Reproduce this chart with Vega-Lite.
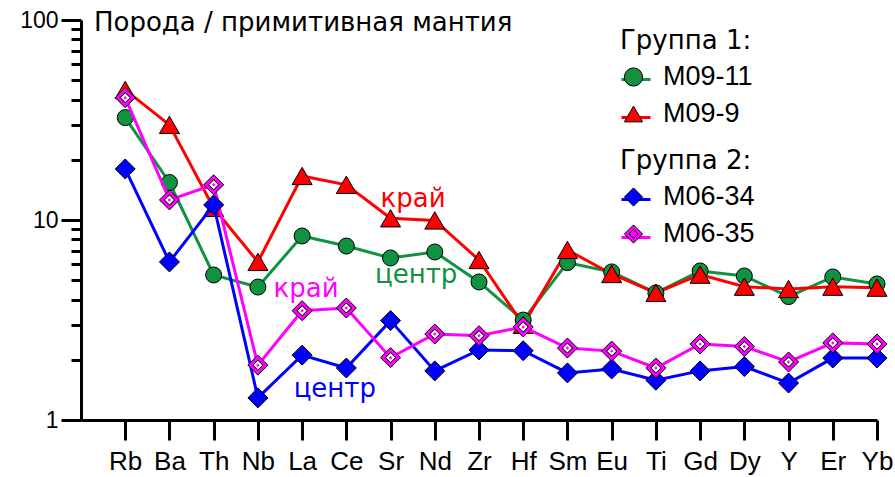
{
  "$schema": "https://vega.github.io/schema/vega-lite/v6.json",
  "width": 796,
  "height": 400,
  "autosize": "none",
  "padding": {"left": 81, "top": 20, "right": 18, "bottom": 57},
  "background": "white",
  "config": {
    "font": "Liberation Sans",
    "view": {"stroke": null},
    "legend": {
      "orient": "none",
      "padding": 0,
      "titleFont": "DejaVu Sans",
      "titleFontSize": 26,
      "titleFontWeight": "normal",
      "titleColor": "black",
      "titlePadding": 9.5,
      "labelFontSize": 27,
      "labelColor": "black",
      "labelOffset": 16,
      "labelLimit": 0,
      "rowPadding": 9,
      "symbolSize": 841
    }
  },
  "title": {
    "text": "Порода / примитивная мантия",
    "orient": "top",
    "anchor": "start",
    "frame": "group",
    "offset": 0,
    "dx": 13,
    "dy": 48,
    "baseline": "alphabetic",
    "font": "DejaVu Sans",
    "fontSize": 26,
    "fontWeight": "normal",
    "color": "black"
  },
  "datasets": {
    "trace": [
      {"sample": "M09-11", "group": 1, "element": "Rb", "value": 32.5},
      {"sample": "M09-11", "group": 1, "element": "Ba", "value": 15.4},
      {"sample": "M09-11", "group": 1, "element": "Th", "value": 5.31},
      {"sample": "M09-11", "group": 1, "element": "Nb", "value": 4.62},
      {"sample": "M09-11", "group": 1, "element": "La", "value": 8.32},
      {"sample": "M09-11", "group": 1, "element": "Ce", "value": 7.41},
      {"sample": "M09-11", "group": 1, "element": "Sr", "value": 6.46},
      {"sample": "M09-11", "group": 1, "element": "Nd", "value": 6.92},
      {"sample": "M09-11", "group": 1, "element": "Zr", "value": 4.9},
      {"sample": "M09-11", "group": 1, "element": "Hf", "value": 3.16},
      {"sample": "M09-11", "group": 1, "element": "Sm", "value": 6.12},
      {"sample": "M09-11", "group": 1, "element": "Eu", "value": 5.5},
      {"sample": "M09-11", "group": 1, "element": "Ti", "value": 4.32},
      {"sample": "M09-11", "group": 1, "element": "Gd", "value": 5.56},
      {"sample": "M09-11", "group": 1, "element": "Dy", "value": 5.25},
      {"sample": "M09-11", "group": 1, "element": "Y", "value": 4.14},
      {"sample": "M09-11", "group": 1, "element": "Er", "value": 5.19},
      {"sample": "M09-11", "group": 1, "element": "Yb", "value": 4.79},
      {"sample": "M09-9", "group": 1, "element": "Rb", "value": 44.7},
      {"sample": "M09-9", "group": 1, "element": "Ba", "value": 29.9},
      {"sample": "M09-9", "group": 1, "element": "Th", "value": 11.5},
      {"sample": "M09-9", "group": 1, "element": "Nb", "value": 6.17},
      {"sample": "M09-9", "group": 1, "element": "La", "value": 16.6},
      {"sample": "M09-9", "group": 1, "element": "Ce", "value": 15.0},
      {"sample": "M09-9", "group": 1, "element": "Sr", "value": 10.2},
      {"sample": "M09-9", "group": 1, "element": "Nd", "value": 9.95},
      {"sample": "M09-9", "group": 1, "element": "Zr", "value": 6.31},
      {"sample": "M09-9", "group": 1, "element": "Hf", "value": 2.99},
      {"sample": "M09-9", "group": 1, "element": "Sm", "value": 7.08},
      {"sample": "M09-9", "group": 1, "element": "Eu", "value": 5.37},
      {"sample": "M09-9", "group": 1, "element": "Ti", "value": 4.32},
      {"sample": "M09-9", "group": 1, "element": "Gd", "value": 5.33},
      {"sample": "M09-9", "group": 1, "element": "Dy", "value": 4.64},
      {"sample": "M09-9", "group": 1, "element": "Y", "value": 4.52},
      {"sample": "M09-9", "group": 1, "element": "Er", "value": 4.64},
      {"sample": "M09-9", "group": 1, "element": "Yb", "value": 4.59},
      {"sample": "M06-34", "group": 2, "element": "Rb", "value": 18.0},
      {"sample": "M06-34", "group": 2, "element": "Ba", "value": 6.17},
      {"sample": "M06-34", "group": 2, "element": "Th", "value": 11.9},
      {"sample": "M06-34", "group": 2, "element": "Nb", "value": 1.29},
      {"sample": "M06-34", "group": 2, "element": "La", "value": 2.11},
      {"sample": "M06-34", "group": 2, "element": "Ce", "value": 1.82},
      {"sample": "M06-34", "group": 2, "element": "Sr", "value": 3.14},
      {"sample": "M06-34", "group": 2, "element": "Nd", "value": 1.76},
      {"sample": "M06-34", "group": 2, "element": "Zr", "value": 2.24},
      {"sample": "M06-34", "group": 2, "element": "Hf", "value": 2.22},
      {"sample": "M06-34", "group": 2, "element": "Sm", "value": 1.72},
      {"sample": "M06-34", "group": 2, "element": "Eu", "value": 1.8},
      {"sample": "M06-34", "group": 2, "element": "Ti", "value": 1.58},
      {"sample": "M06-34", "group": 2, "element": "Gd", "value": 1.76},
      {"sample": "M06-34", "group": 2, "element": "Dy", "value": 1.85},
      {"sample": "M06-34", "group": 2, "element": "Y", "value": 1.53},
      {"sample": "M06-34", "group": 2, "element": "Er", "value": 2.04},
      {"sample": "M06-34", "group": 2, "element": "Yb", "value": 2.04},
      {"sample": "M06-35", "group": 2, "element": "Rb", "value": 40.9},
      {"sample": "M06-35", "group": 2, "element": "Ba", "value": 12.6},
      {"sample": "M06-35", "group": 2, "element": "Th", "value": 15.0},
      {"sample": "M06-35", "group": 2, "element": "Nb", "value": 1.88},
      {"sample": "M06-35", "group": 2, "element": "La", "value": 3.52},
      {"sample": "M06-35", "group": 2, "element": "Ce", "value": 3.63},
      {"sample": "M06-35", "group": 2, "element": "Sr", "value": 2.05},
      {"sample": "M06-35", "group": 2, "element": "Nd", "value": 2.69},
      {"sample": "M06-35", "group": 2, "element": "Zr", "value": 2.64},
      {"sample": "M06-35", "group": 2, "element": "Hf", "value": 2.92},
      {"sample": "M06-35", "group": 2, "element": "Sm", "value": 2.29},
      {"sample": "M06-35", "group": 2, "element": "Eu", "value": 2.21},
      {"sample": "M06-35", "group": 2, "element": "Ti", "value": 1.82},
      {"sample": "M06-35", "group": 2, "element": "Gd", "value": 2.4},
      {"sample": "M06-35", "group": 2, "element": "Dy", "value": 2.33},
      {"sample": "M06-35", "group": 2, "element": "Y", "value": 1.95},
      {"sample": "M06-35", "group": 2, "element": "Er", "value": 2.43},
      {"sample": "M06-35", "group": 2, "element": "Yb", "value": 2.4}
    ],
    "notes": [
      {"label": "край", "sample": "M09-9", "pos": 7.51, "value": 11.6},
      {"label": "центр", "sample": "M09-11", "pos": 7.58, "value": 4.84},
      {"label": "край", "sample": "M06-35", "pos": 5.09, "value": 4.12},
      {"label": "центр", "sample": "M06-34", "pos": 5.74, "value": 1.3}
    ]
  },
  "layer": [
    {
      "data": {"name": "trace"},
      "encoding": {
        "x": {
          "field": "element",
          "type": "ordinal",
          "sort": null,
          "scale": {
            "type": "point",
            "padding": 0,
            "domain": ["", "Rb", "Ba", "Th", "Nb", "La", "Ce", "Sr", "Nd", "Zr", "Hf", "Sm", "Eu", "Ti", "Gd", "Dy", "Y", "Er", "Yb"]
          },
          "axis": {
            "title": null,
            "orient": "bottom",
            "values": ["Rb", "Ba", "Th", "Nb", "La", "Ce", "Sr", "Nd", "Zr", "Hf", "Sm", "Eu", "Ti", "Gd", "Dy", "Y", "Er", "Yb"],
            "labelAngle": 0,
            "labelFontSize": 26,
            "labelColor": "black",
            "labelPadding": 8,
            "tickSize": 20,
            "tickWidth": 3,
            "tickColor": "black",
            "domainColor": "black",
            "domainWidth": 3,
            "grid": false
          }
        },
        "y": {
          "field": "value",
          "type": "quantitative",
          "scale": {"type": "log", "domain": [1, 100]},
          "axis": {
            "title": null,
            "orient": "left",
            "values": [1, 10, 100],
            "format": "d",
            "labelFontSize": 23,
            "labelColor": "black",
            "labelPadding": 3,
            "tickSize": 20,
            "tickWidth": 3,
            "tickColor": "black",
            "domainColor": "black",
            "domainWidth": 3,
            "grid": false
          }
        },
        "order": {"value": null}
      },
      "layer": [
        {
          "transform": [{"filter": "datum.group === 1"}],
          "layer": [
            {
              "mark": {"type": "line", "strokeWidth": 3},
              "encoding": {
                "stroke": {
                  "field": "sample",
                  "type": "nominal",
                  "scale": {"range": ["#119240", "#ff0000"]},
                  "legend": {
                    "title": " ",
                    "legendX": 539,
                    "legendY": 8,
                    "symbolType": "stroke",
                    "symbolStrokeWidth": 3,
                    "labelExpr": "''",
                    "zindex": 0
                  }
                }
              }
            },
            {
              "mark": {"type": "point", "filled": true, "stroke": "black", "strokeWidth": 1, "opacity": 1},
              "encoding": {
                "fill": {
                  "field": "sample",
                  "type": "nominal",
                  "scale": {"domain": ["M09-11", "M09-9"], "range": ["#119240", "#ff0000"]},
                  "legend": {
                    "title": "Группа 1:",
                    "legendX": 539,
                    "legendY": 8,
                    "symbolStrokeColor": "black",
                    "symbolStrokeWidth": 1,
                    "symbolOpacity": 1,
                    "zindex": 1,
                    "encode": {"symbols": {"update": {"size": {"value": 330}, "stroke": {"value": "black"}, "strokeWidth": {"value": 1}}}}
                  }
                },
                "shape": {
                  "field": "sample",
                  "type": "nominal",
                  "scale": {"domain": ["M09-11", "M09-9"], "range": ["circle", "triangle-up"]},
                  "legend": {
                    "title": "Группа 1:",
                    "legendX": 539,
                    "legendY": 8,
                    "symbolStrokeColor": "black",
                    "symbolStrokeWidth": 1,
                    "symbolOpacity": 1,
                    "zindex": 1,
                    "encode": {"symbols": {"update": {"size": {"value": 330}, "stroke": {"value": "black"}, "strokeWidth": {"value": 1}}}}
                  }
                },
                "size": {
                  "field": "sample",
                  "type": "ordinal",
                  "scale": {"range": [256, 400]},
                  "legend": null
                }
              }
            }
          ]
        },
        {
          "transform": [{"filter": "datum.group === 2"}],
          "layer": [
            {
              "mark": {"type": "line", "strokeWidth": 3},
              "encoding": {
                "stroke": {
                  "field": "sample",
                  "type": "nominal",
                  "scale": {"range": ["#0000ff", "#ff00ff"]},
                  "legend": {
                    "title": " ",
                    "legendX": 539,
                    "legendY": 128,
                    "symbolType": "stroke",
                    "symbolStrokeWidth": 3,
                    "labelExpr": "''",
                    "zindex": 0
                  }
                }
              }
            },
            {
              "mark": {"type": "point", "filled": true, "stroke": "black", "strokeWidth": 1, "opacity": 1, "size": 400},
              "encoding": {
                "fill": {
                  "field": "sample",
                  "type": "nominal",
                  "scale": {"domain": ["M06-34", "M06-35"], "range": ["#0000ff", "#ff00ff"]},
                  "legend": {
                    "title": "Группа 2:",
                    "legendX": 539,
                    "legendY": 128,
                    "symbolStrokeColor": "black",
                    "symbolStrokeWidth": 1,
                    "symbolOpacity": 1,
                    "zindex": 1,
                    "encode": {"symbols": {"update": {"size": {"value": 330}, "stroke": {"value": "black"}, "strokeWidth": {"value": 1}}}}
                  }
                },
                "shape": {
                  "field": "sample",
                  "type": "nominal",
                  "scale": {
                    "domain": ["M06-34", "M06-35"],
                    "range": ["diamond", "M0,-1L1,0L0,1L-1,0Z M0,-0.5L0.5,0L0,0.5L-0.5,0Z"]
                  },
                  "legend": {
                    "title": "Группа 2:",
                    "legendX": 539,
                    "legendY": 128,
                    "symbolStrokeColor": "black",
                    "symbolStrokeWidth": 1,
                    "symbolOpacity": 1,
                    "zindex": 1,
                    "encode": {"symbols": {"update": {"size": {"value": 330}, "stroke": {"value": "black"}, "strokeWidth": {"value": 1}}}}
                  }
                }
              }
            },
            {
              "transform": [{"filter": "datum.sample === 'M06-35'"}],
              "mark": {"type": "point", "filled": true, "shape": "diamond", "fill": "white", "stroke": "black", "strokeWidth": 1, "opacity": 1, "size": 100},
              "encoding": {}
            },
            {
              "transform": [{"filter": "datum.sample === 'M06-35'"}],
              "mark": {"type": "point", "filled": true, "shape": "diamond", "fill": "#ff00ff", "strokeWidth": 0, "opacity": 1, "size": 12},
              "encoding": {}
            }
          ]
        }
      ],
      "resolve": {"scale": {"stroke": "independent", "fill": "independent", "shape": "independent", "size": "independent"}}
    },
    {
      "data": {"name": "notes"},
      "mark": {"type": "text", "font": "DejaVu Sans", "fontSize": 26, "align": "center", "baseline": "alphabetic"},
      "encoding": {
        "x": {"field": "pos", "type": "quantitative", "scale": {"domain": [0, 18]}, "axis": null},
        "y": {
          "field": "value",
          "type": "quantitative",
          "scale": {"type": "log", "domain": [1, 100]},
          "axis": {
            "title": null,
            "orient": "left",
            "values": [2, 3, 4, 5, 6, 7, 8, 9, 20, 30, 40, 50, 60, 70, 80, 90],
            "labels": false,
            "domain": false,
            "tickSize": 10,
            "tickWidth": 3,
            "tickColor": "black",
            "grid": false
          }
        },
        "text": {"field": "label"},
        "color": {
          "field": "sample",
          "type": "nominal",
          "scale": {"domain": ["M09-9", "M09-11", "M06-35", "M06-34"], "range": ["#ff0000", "#119240", "#ff00ff", "#0000ff"]},
          "legend": null
        }
      }
    }
  ],
  "resolve": {"scale": {"x": "independent"}, "axis": {"y": "independent"}}
}
